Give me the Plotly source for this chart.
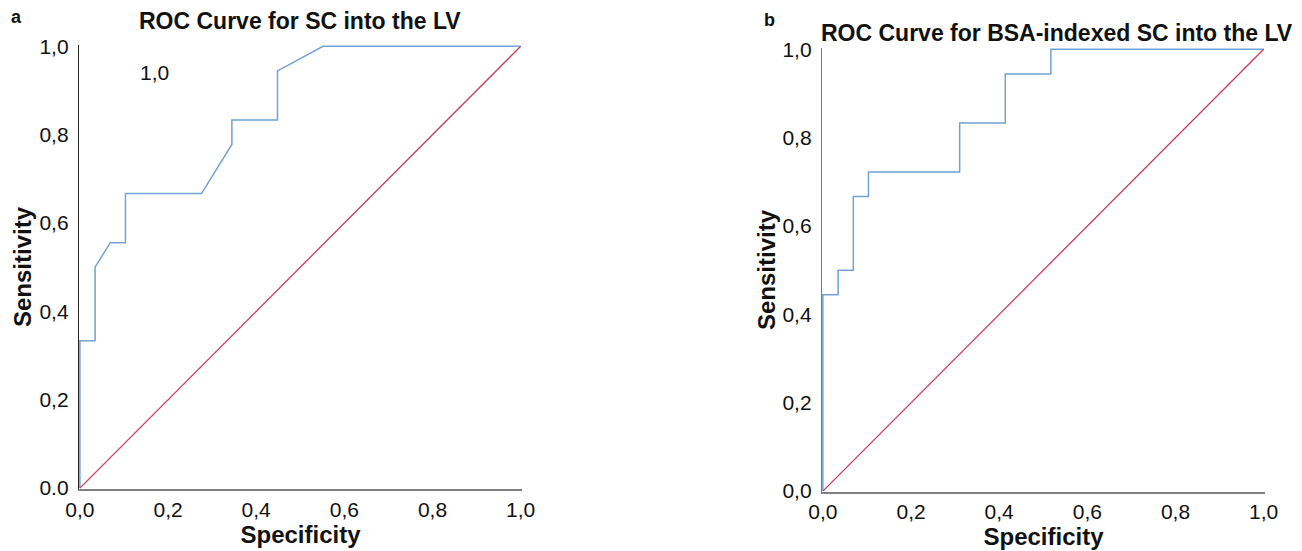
import plotly.graph_objects as go

# Panel a: ROC for SC into the LV (x = 1 - specificity as plotted, labelled "Specificity")
a_x = [0.0, 0.0, 0.0345, 0.0345, 0.069, 0.1034, 0.1034, 0.2759, 0.3448, 0.3448, 0.4483, 0.4483, 0.5517, 1.0]
a_y = [0.0, 0.3333, 0.3333, 0.5, 0.5556, 0.5556, 0.6667, 0.6667, 0.7778, 0.8333, 0.8333, 0.9444, 1.0, 1.0]

# Panel b: ROC for BSA-indexed SC into the LV
b_x = [0.0, 0.0, 0.0345, 0.0345, 0.069, 0.069, 0.1034, 0.1034, 0.3103, 0.3103, 0.4138, 0.4138, 0.5172, 0.5172, 1.0]
b_y = [0.0, 0.4444, 0.4444, 0.5, 0.5, 0.6667, 0.6667, 0.7222, 0.7222, 0.8333, 0.8333, 0.9444, 0.9444, 1.0, 1.0]

ref_x = [0.0, 1.0]
ref_y = [0.0, 1.0]

tick_vals = [0.0, 0.2, 0.4, 0.6, 0.8, 1.0]
x_tick_text = ["0,0", "0,2", "0,4", "0,6", "0,8", "1,0"]
a_y_tick_text = ["0.0", "0,2", "0,4", "0,6", "0,8", "1,0"]
b_y_tick_text = ["0,0", "0,2", "0,4", "0,6", "0,8", "1,0"]

BLUE = "#72a2d6"
RED = "#c83a5f"
FONT = "Liberation Sans, Arial, sans-serif"
TICK_SIZE = 21
TITLE_SIZE = 23
AXT_SIZE = 24

W, H = 1302, 551

fig = go.Figure()
fig.add_trace(go.Scatter(x=a_x, y=a_y, mode="lines", line=dict(color=BLUE, width=1.5),
                         xaxis="x", yaxis="y", showlegend=False))
fig.add_trace(go.Scatter(x=ref_x, y=ref_y, mode="lines", line=dict(color=RED, width=1.3),
                         xaxis="x", yaxis="y", showlegend=False))
fig.add_trace(go.Scatter(x=b_x, y=b_y, mode="lines", line=dict(color=BLUE, width=1.5),
                         xaxis="x2", yaxis="y2", showlegend=False))
fig.add_trace(go.Scatter(x=ref_x, y=ref_y, mode="lines", line=dict(color=RED, width=1.3),
                         xaxis="x2", yaxis="y2", showlegend=False))

def px_x(p):
    return p / W

def px_y(p):
    return 1 - p / H

common_axis = dict(showgrid=False, zeroline=False, ticks="", showline=True, automargin=False,
                   tickfont=dict(family=FONT, size=TICK_SIZE, color="#111"),
                   layer="below traces", tickvals=tick_vals)

fig.update_layout(
    width=W, height=H,
    margin=dict(l=0, r=0, t=0, b=0, autoexpand=False),
    paper_bgcolor="white", plot_bgcolor="white",
    font=dict(family=FONT, color="#111"),
    xaxis=dict(domain=[px_x(79), px_x(522)], range=[-0.002, 1.003], anchor="y",
               ticktext=x_tick_text, linecolor="#808080", linewidth=1.5,
               ticklabelstandoff=1,
               title=dict(text="<b>Specificity</b>", font=dict(family=FONT, size=AXT_SIZE), standoff=1),
               **common_axis),
    yaxis=dict(domain=[px_y(489), px_y(45)], range=[-0.002, 1.003], anchor="x",
               ticktext=a_y_tick_text, linecolor="#222", linewidth=1.3,
               ticklabelstandoff=5,
               title=dict(text="<b>Sensitivity</b>", font=dict(family=FONT, size=AXT_SIZE), standoff=1),
               **common_axis),
    xaxis2=dict(domain=[px_x(822), px_x(1265)], range=[-0.002, 1.003], anchor="y2",
                ticktext=x_tick_text, linecolor="#808080", linewidth=1.5,
                ticklabelstandoff=0,
                title=dict(text="<b>Specificity</b>", font=dict(family=FONT, size=AXT_SIZE), standoff=2),
                **common_axis),
    yaxis2=dict(domain=[px_y(492), px_y(48)], range=[-0.002, 1.003], anchor="x2",
                ticktext=b_y_tick_text, linecolor="#777", linewidth=1.3,
                ticklabelstandoff=5,
                title=dict(text="<b>Sensitivity</b>", font=dict(family=FONT, size=AXT_SIZE), standoff=0),
                **common_axis),
    annotations=[
        dict(text="<b>a</b>", x=px_x(16), y=px_y(17), xref="paper", yref="paper",
             xanchor="center", yanchor="middle",
             showarrow=False, font=dict(family=FONT, size=18, color="#111")),
        dict(text="<b>b</b>", x=px_x(769), y=px_y(20), xref="paper", yref="paper",
             xanchor="center", yanchor="middle",
             showarrow=False, font=dict(family=FONT, size=18, color="#111")),
        dict(text="<b>ROC Curve for SC into the LV</b>", x=px_x(300), y=px_y(21),
             xref="paper", yref="paper", showarrow=False, xanchor="center", yanchor="middle",
             font=dict(family=FONT, size=TITLE_SIZE, color="#111")),
        dict(text="<b>ROC Curve for BSA-indexed SC into the LV</b>", x=px_x(1057), y=px_y(33),
             xref="paper", yref="paper", showarrow=False, xanchor="center", yanchor="middle",
             font=dict(family=FONT, size=TITLE_SIZE, color="#111")),
        dict(text="1,0", x=0.17, y=0.94, xref="x", yref="y", showarrow=False,
             xanchor="center", yanchor="middle",
             font=dict(family=FONT, size=TICK_SIZE, color="#111")),
    ],
)

fig.write_html("out.html")
